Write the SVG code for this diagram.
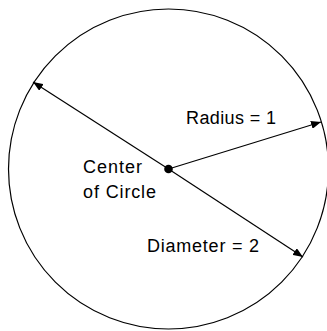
<svg xmlns="http://www.w3.org/2000/svg" width="327" height="331" viewBox="0 0 327 331">
<style>
.lbl{font-family:"Liberation Sans",Arial,sans-serif;font-size:18px;fill:#000}
.ln{stroke:#000;stroke-width:1.2;fill:none}
</style>
<defs>
<marker id="ah" viewBox="0 0 10 8" refX="10" refY="4" markerWidth="10" markerHeight="8" markerUnits="userSpaceOnUse" orient="auto">
<path d="M0,0 L10,4 L0,8 Z" fill="#000"/>
</marker>
</defs>
<rect width="327" height="331" fill="#fff"/>
<g id="circle">
<circle cx="168.5" cy="169" r="160" fill="none" stroke="#000" stroke-width="1.2"/>
</g>
<g id="connectors">
<line class="ln" x1="168.5" y1="169" x2="33" y2="82" marker-end="url(#ah)"/>
<line class="ln" x1="168.5" y1="169" x2="303" y2="257" marker-end="url(#ah)"/>
<line class="ln" x1="168.5" y1="169" x2="321" y2="122" marker-end="url(#ah)"/>
</g>
<g id="center">
<circle cx="168.5" cy="169" r="4.3" fill="#000"/>
<text class="lbl" x="83" y="172.5" textLength="59" lengthAdjust="spacing">Center</text>
<text class="lbl" x="83" y="197.5" textLength="73" lengthAdjust="spacing">of Circle</text>
</g>
<g id="radius">
<text class="lbl" x="186" y="124" textLength="90" lengthAdjust="spacing">Radius = 1</text>
</g>
<g id="diameter">
<text class="lbl" x="147" y="252" textLength="112" lengthAdjust="spacing">Diameter = 2</text>
</g>
</svg>
